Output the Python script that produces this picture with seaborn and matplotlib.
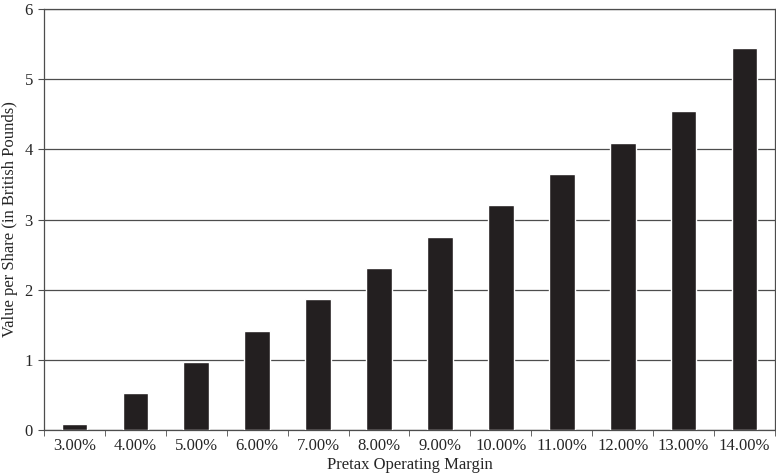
import numpy as np
import pandas as pd
import seaborn as sns
import matplotlib.pyplot as plt
from matplotlib.ticker import FixedLocator

# 数据
margins = ['3.00%', '4.00%', '5.00%', '6.00%', '7.00%', '8.00%',
           '9.00%', '10.00%', '11.00%', '12.00%', '13.00%', '14.00%']
values = [0.08, 0.53, 0.97, 1.41, 1.87, 2.31,
          2.75, 3.20, 3.65, 4.09, 4.54, 5.45]

df = pd.DataFrame({'margin': margins, 'value': values})

sns.set_style('white')
plt.rcParams['font.family'] = ['Liberation Serif', 'DejaVu Serif']

fig = plt.figure(figsize=(7.76, 4.75), dpi=100)
ax = fig.add_axes([44 / 776, 1 - 430 / 475, (775 - 44) / 776, (430 - 9) / 475])

sns.barplot(data=df, x='margin', y='value', color='#231f20', width=0.42,
            saturation=1, ax=ax, zorder=3)

ax.set_ylim(0, 6)
ax.set_xlim(-0.5, len(margins) - 0.5)
ax.set_yticks(range(0, 7))
ax.yaxis.grid(True, color='#4d4d4d', linewidth=0.9, zorder=0)
ax.set_axisbelow(True)

for side in ax.spines.values():
    side.set_visible(True)
    side.set_color('#4d4d4d')
    side.set_linewidth(0.9)

# x 方向刻度在类别边界处
ax.xaxis.set_minor_locator(FixedLocator(np.arange(-0.5, len(margins), 1)))
ax.tick_params(axis='x', which='major', length=0, labelsize=12, pad=6)
ax.tick_params(axis='x', which='minor', length=4, color='#4d4d4d', direction='out', bottom=True)
ax.tick_params(axis='y', length=4, color='#4d4d4d', direction='out', left=True, labelsize=12, pad=4)

ax.set_xlabel('Pretax Operating Margin', fontsize=12, labelpad=2)
ax.set_ylabel('Value per Share (in British Pounds)', fontsize=12)
ax.yaxis.set_label_coords((18 - 44) / 731, 0.5)

fig.savefig('out.png', dpi=100)
